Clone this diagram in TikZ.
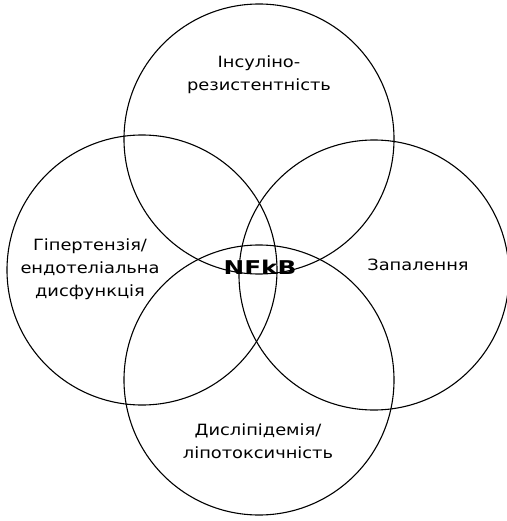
\documentclass[tikz,border=0pt]{standalone}
\usepackage{fontspec}
\newfontfamily\vennfont{DejaVu Sans}[FakeStretch=1.15]
\newfontfamily\hubfont{DejaVu Sans}[FakeStretch=1.3]
\usetikzlibrary{positioning}
\tikzset{
  vcirc/.style={circle, draw=black, line width=1.1pt, minimum size=270pt, inner sep=0pt},
  vlab/.style={font=\vennfont\fontsize{15.5}{23}\selectfont, align=center, text=black},
  hub/.style={font=\hubfont\bfseries\fontsize{19}{20}\selectfont, text=black},
}
\begin{document}
\begin{tikzpicture}[x=1pt,y=-1pt]
\useasboundingbox (0,0) rectangle (506,521);
% four overlapping circles
\node[vcirc] (ins) at (259,139) {};
\node[vcirc] (hyp) at (142,270) {};
\node[vcirc] (inf) at (374,275) {};
\node[vcirc] (dys) at (259,380) {};
% labels
\node[vlab] (tins) at (259,75) {Інсуліно-\\резистентність};
\node[vlab] (thyp) at (90,269) {Гіпертензія/\\ендотеліальна\\дисфункція};
\node[vlab] (tinf) at (418,265) {Запалення};
\node[vlab] (tdys) at (258,441) {Дисліпідемія/\\ліпотоксичність};
\node[hub] (nfkb) at (260,267) {NFkB};
\end{tikzpicture}
\end{document}
